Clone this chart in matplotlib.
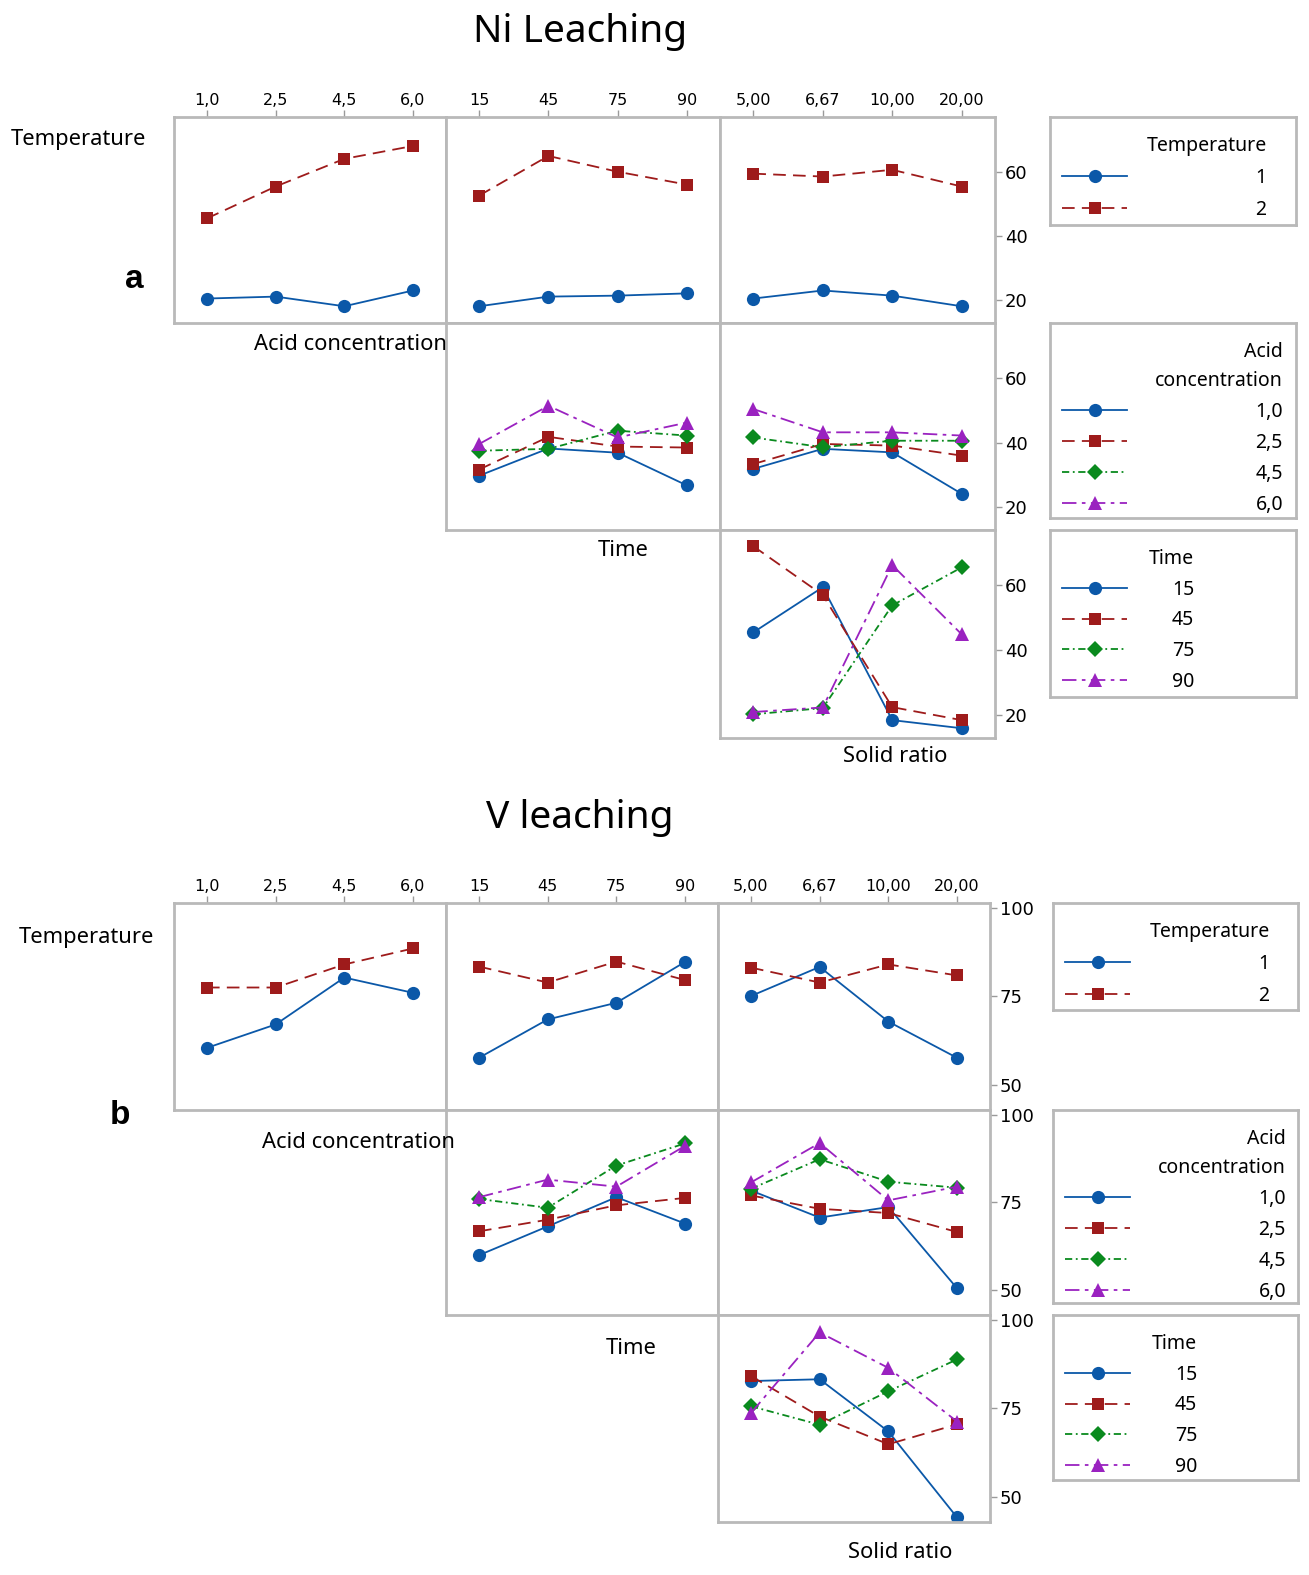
import matplotlib
matplotlib.use('Agg')
import matplotlib.pyplot as plt

# ---------------- data ----------------
temp_levels = ['1', '2']
acid_levels = ['1,0', '2,5', '4,5', '6,0']
time_levels = ['15', '45', '75', '90']
ratio_levels = ['5,00', '6,67', '10,00', '20,00']

# Ni leaching
ni_temp_vs_acid = [[20.6, 21.2, 18.2, 23.1], [45.5, 55.4, 64.0, 68.0]]
ni_temp_vs_time = [[18.2, 21.2, 21.5, 22.2], [52.6, 64.9, 60.0, 56.0]]
ni_temp_vs_ratio = [[20.6, 23.1, 21.5, 18.2], [59.4, 58.5, 60.6, 55.4]]
ni_acid_vs_time = [[29.8, 38.2, 36.9, 26.8],
                   [31.7, 41.8, 38.8, 38.5],
                   [37.5, 38.1, 43.7, 42.2],
                   [39.6, 51.4, 41.6, 46.2]]
ni_acid_vs_ratio = [[31.9, 38.1, 37.0, 24.2],
                    [33.4, 39.6, 39.1, 36.0],
                    [41.6, 38.6, 40.6, 40.6],
                    [50.4, 43.2, 43.2, 42.2]]
ni_time_vs_ratio = [[45.5, 59.4, 18.5, 16.0],
                    [72.0, 57.0, 22.5, 18.5],
                    [20.3, 22.2, 53.8, 65.5],
                    [21.0, 22.4, 66.2, 44.9]]

# V leaching
v_temp_vs_acid = [[60.5, 67.1, 80.3, 76.0], [77.5, 77.5, 84.0, 88.5]]
v_temp_vs_time = [[57.7, 68.5, 73.2, 84.7], [83.4, 78.9, 84.8, 79.6]]
v_temp_vs_ratio = [[75.1, 83.3, 67.9, 57.7], [83.1, 78.9, 84.0, 80.9]]
v_acid_vs_time = [[60.0, 68.2, 76.5, 69.0],
                  [66.8, 70.1, 74.2, 76.3],
                  [76.0, 73.5, 85.5, 91.8],
                  [76.5, 81.5, 79.5, 91.1]]
v_acid_vs_ratio = [[78.4, 70.7, 73.7, 50.6],
                   [77.0, 73.2, 72.0, 66.6],
                   [78.9, 87.3, 80.9, 79.2],
                   [80.7, 91.9, 75.6, 79.5]]
v_time_vs_ratio = [[82.7, 83.2, 68.5, 44.3],
                   [84.1, 72.7, 64.9, 70.5],
                   [75.6, 70.4, 79.8, 88.8],
                   [73.7, 96.4, 86.4, 71.3]]

ni_yticks = [20, 40, 60]
v_yticks = [50, 75, 100]

# ---------------- style ----------------
COLORS = ['#0B58A8', '#9E1B1B', '#0A8A1E', '#9A22C0']
MARKERS = ['o', 's', 'D', '^']
MSIZES = [9.5, 9.0, 8.0, 10.0]
LSTYLES = ['-', (0, (7, 4)), (0, (4, 2, 1, 2)), (0, (8, 3, 2, 3))]
SPINE = '#b9b9b9'

W, H = 1309, 1575
fig = plt.figure(figsize=(W / 100, H / 100), dpi=100)
fig.patch.set_facecolor('white')

TXT = ['Noto Sans', 'DejaVu Sans']
TICKF = ['Liberation Sans Narrow', 'DejaVu Sans']
LEGF = 14


def rect(x0, y0, x1, y1):
    return [x0 / W, 1 - y1 / H, (x1 - x0) / W, (y1 - y0) / H]


def draw_cell(ax, series, xlabels, ylim, yticks, top, right):
    handles = []
    for i, vals in enumerate(series):
        h, = ax.plot(range(len(vals)), vals, color=COLORS[i], marker=MARKERS[i],
                     markersize=MSIZES[i], linestyle=LSTYLES[i], linewidth=1.3,
                     markeredgewidth=0)
        handles.append(h)
    ax.set_xlim(-0.48, 3.48)
    ax.set_ylim(*ylim)
    ax.set_xticks(range(len(xlabels)))
    ax.set_xticklabels(xlabels, fontfamily=TICKF)
    ax.set_yticks(yticks)
    ax.set_yticklabels([str(t) for t in yticks], fontfamily=TICKF)
    ax.tick_params(axis='x', top=top, labeltop=top, bottom=False, labelbottom=False,
                   direction='out', length=5, width=1, color='#9a9a9a', labelsize=11.5,
                   pad=1.5)
    ax.tick_params(axis='y', left=False, labelleft=False, right=right, labelright=right,
                   direction='out', length=5, width=1, color='#9a9a9a', labelsize=13,
                   pad=2)
    for s in ax.spines.values():
        s.set_color(SPINE)
        s.set_linewidth(2)
    return handles


def legend_box(box, handles, labels, title, pad, spacing):
    x0, y0, x1, y1 = box
    lax = fig.add_axes(rect(*box))
    lax.set_xticks([])
    lax.set_yticks([])
    for s in lax.spines.values():
        s.set_color(SPINE)
        s.set_linewidth(2)
    ax_w = x1 - x0
    ax_h = y1 - y0
    leg = lax.legend(handles, labels, title=title, loc='upper left',
                     bbox_to_anchor=(12 / ax_w, 1 - 19 / ax_h), frameon=False,
                     alignment='right',
                     handlelength=3.35, handletextpad=pad, labelspacing=spacing,
                     prop={'family': TXT, 'size': LEGF},
                     title_fontproperties={'family': TXT, 'size': LEGF},
                     borderaxespad=0, borderpad=0)
    t = leg.get_title()
    t.set_linespacing(1.6)
    t.set_multialignment('right')
    return leg


def panel(cols, rows, ylim, yticks, cells, legend_boxes, title, title_y,
          letter, letter_xy, rowlabels):
    hs = {}
    for (r, c), (series, xl) in cells.items():
        ax = fig.add_axes(rect(cols[c][0], rows[r][0], cols[c][1], rows[r][1]))
        hs[(r, c)] = draw_cell(ax, series, xl, ylim, yticks, top=(r == 0), right=(c == 2))
    fig.text(580 / W, 1 - title_y / H, title, ha='center', va='center',
             fontsize=28, fontfamily=TXT)
    fig.text(letter_xy[0] / W, 1 - letter_xy[1] / H, letter, ha='center', va='center',
             fontsize=24, fontweight='bold', fontfamily=['Liberation Sans', 'DejaVu Sans'])
    for txt, (x, y) in rowlabels:
        fig.text(x / W, 1 - y / H, txt, ha='center', va='center', fontsize=15.8,
                 fontfamily=TXT)
    legend_box(legend_boxes[0], hs[(0, 2)], temp_levels, 'Temperature', 6.6, 0.62)
    legend_box(legend_boxes[1], hs[(1, 2)], acid_levels, 'Acid\nconcentration', 6.6, 0.56)
    legend_box(legend_boxes[2], hs[(2, 2)], time_levels, 'Time', 2.3, 0.55)


panel(cols=[(174, 446), (446, 720), (720, 995)],
      rows=[(117, 323), (323, 530), (530, 738)],
      ylim=(13.0, 77.0), yticks=ni_yticks,
      cells={(0, 0): (ni_temp_vs_acid, acid_levels),
             (0, 1): (ni_temp_vs_time, time_levels),
             (0, 2): (ni_temp_vs_ratio, ratio_levels),
             (1, 1): (ni_acid_vs_time, time_levels),
             (1, 2): (ni_acid_vs_ratio, ratio_levels),
             (2, 2): (ni_time_vs_ratio, ratio_levels)},
      legend_boxes=[(1050, 117, 1296, 225), (1050, 323, 1296, 518), (1050, 530, 1296, 697)],
      title='Ni Leaching', title_y=32, letter='a', letter_xy=(134, 280),
      rowlabels=[('Temperature', (78, 139)), ('Acid concentration', (350, 345)),
                 ('Time', (623, 551)), ('Solid ratio', (895, 757))])

panel(cols=[(174, 446), (446, 718), (718, 990)],
      rows=[(903, 1110), (1110, 1315), (1315, 1522)],
      ylim=(43.0, 101.3), yticks=v_yticks,
      cells={(0, 0): (v_temp_vs_acid, acid_levels),
             (0, 1): (v_temp_vs_time, time_levels),
             (0, 2): (v_temp_vs_ratio, ratio_levels),
             (1, 1): (v_acid_vs_time, time_levels),
             (1, 2): (v_acid_vs_ratio, ratio_levels),
             (2, 2): (v_time_vs_ratio, ratio_levels)},
      legend_boxes=[(1053, 903, 1298, 1010), (1053, 1110, 1298, 1303), (1053, 1315, 1298, 1480)],
      title='V leaching', title_y=818, letter='b', letter_xy=(120, 1116),
      rowlabels=[('Temperature', (86, 938)), ('Acid concentration', (358, 1143)),
                 ('Time', (631, 1348)), ('Solid ratio', (900, 1553))])

fig.savefig('out.png', dpi=100, facecolor='white')
